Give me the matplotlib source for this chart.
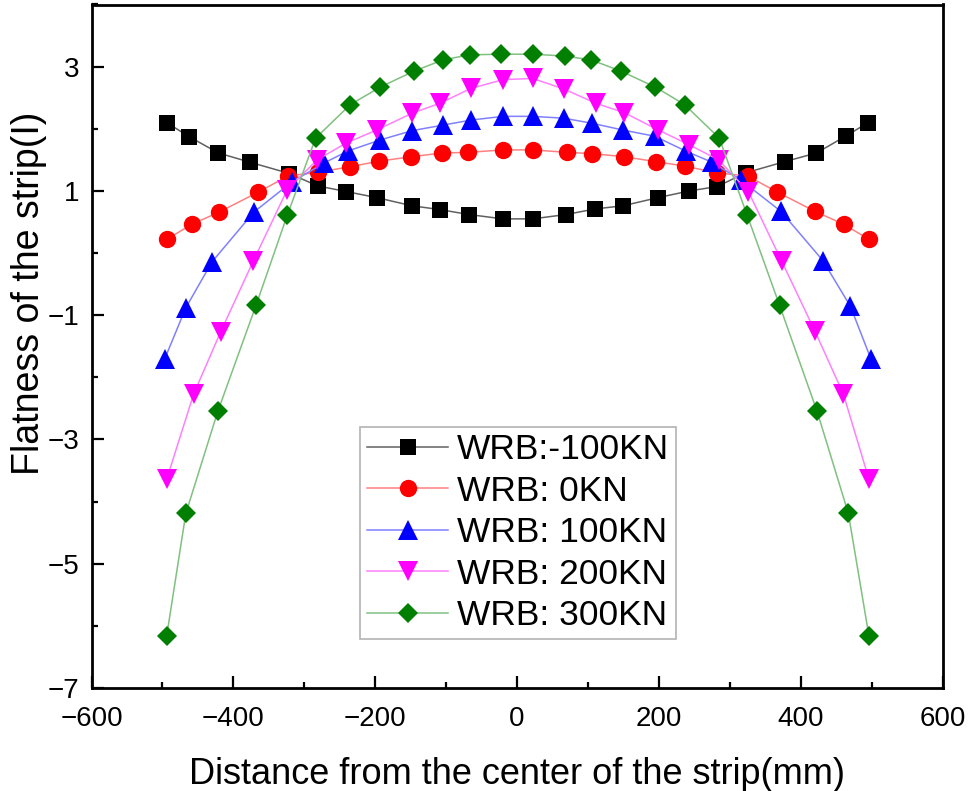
import matplotlib
matplotlib.use("Agg")
import matplotlib.pyplot as plt
from matplotlib.ticker import MultipleLocator, FixedLocator

plt.rcParams['font.family'] = ['Liberation Sans', 'DejaVu Sans']

labels = ["WRB:-100KN", "WRB: 0KN", "WRB: 100KN", "WRB: 200KN", "WRB: 300KN"]

x_m100 = [-494, -462, -421, -376, -321, -281, -241, -197, -148, -109, -68, -20,
          22, 69, 110, 149, 198, 243, 282, 322, 377, 422, 463, 495]
y_m100 = [2.10, 1.87, 1.61, 1.46, 1.28, 1.08, 0.99, 0.89, 0.76, 0.70, 0.62, 0.55,
          0.55, 0.62, 0.71, 0.76, 0.89, 1.00, 1.07, 1.29, 1.47, 1.61, 1.88, 2.10]

x_0 = [-494, -459, -420, -365, -323, -281, -235, -194, -149, -106, -69, -20,
       22, 71, 106, 151, 196, 236, 282, 325, 367, 420, 461, 496]
y_0 = [0.22, 0.46, 0.66, 0.98, 1.24, 1.30, 1.39, 1.48, 1.55, 1.61, 1.62, 1.66,
       1.66, 1.62, 1.60, 1.55, 1.47, 1.40, 1.29, 1.24, 0.98, 0.67, 0.46, 0.22]

x_100 = [-497, -467, -430, -371, -318, -272, -239, -193, -148, -104, -65, -20,
         22, 66, 105, 149, 194, 238, 275, 315, 372, 431, 470, 499]
y_100 = [-1.71, -0.88, -0.14, 0.66, 1.14, 1.45, 1.64, 1.82, 1.97, 2.06, 2.14, 2.20,
         2.20, 2.17, 2.09, 1.98, 1.88, 1.64, 1.46, 1.18, 0.67, -0.12, -0.86, -1.71]

x_200 = [-494, -456, -418, -372, -324, -282, -241, -198, -148, -109, -65, -20,
         22, 66, 111, 151, 199, 243, 284, 326, 373, 420, 460, 496]
y_200 = [-3.64, -2.27, -1.27, -0.13, 1.02, 1.50, 1.77, 1.98, 2.25, 2.41, 2.65, 2.79,
         2.81, 2.64, 2.41, 2.26, 1.98, 1.74, 1.50, 0.99, -0.13, -1.26, -2.27, -3.64]

x_300 = [-494, -467, -422, -368, -324, -284, -235, -193, -145, -104, -67, -22,
         23, 67, 104, 146, 195, 236, 285, 324, 370, 423, 467, 496]
y_300 = [-6.16, -4.19, -2.55, -0.84, 0.61, 1.85, 2.39, 2.67, 2.93, 3.11, 3.19, 3.20,
         3.20, 3.17, 3.11, 2.93, 2.67, 2.39, 1.85, 0.62, -0.84, -2.55, -4.19, -6.16]

series_x = [x_m100, x_0, x_100, x_200, x_300]
series_y = [y_m100, y_0, y_100, y_200, y_300]
marker_colors = ['#000000', '#ff0000', '#0000ff', '#ff00ff', '#007f00']
line_colors = ['#606060', '#ff8080', '#8080ff', '#ff80ff', '#80c080']
markers = ['s', 'o', '^', 'v', 'D']
msizes = [11.3, 12.5, 14, 14, 10.5]

x_ticks = [-600, -400, -200, 0, 200, 400, 600]
y_ticks = [-7, -5, -3, -1, 1, 3]

fig = plt.figure(figsize=(9.69, 7.91), dpi=100)
ax = fig.add_axes([91.5/969, (791-688)/791, (942.7-91.5)/969, (688-4.5)/791])

for xs, ys, mc, lc, m, ms, lab in zip(series_x, series_y, marker_colors, line_colors,
                                      markers, msizes, labels):
    ax.plot(xs, ys, color=lc, lw=1.1, marker=m, ms=ms, mfc=mc, mec=mc, mew=0,
            label=lab, zorder=3)

ax.set_xlim(-600, 600)
ax.set_ylim(-7, 4)
ax.xaxis.set_major_locator(FixedLocator(x_ticks))
ax.xaxis.set_minor_locator(MultipleLocator(100))
ax.yaxis.set_major_locator(FixedLocator(y_ticks))
ax.yaxis.set_minor_locator(MultipleLocator(1))
ax.tick_params(which='both', direction='in', top=False, right=False, width=1.6,
               labelsize=20)
ax.tick_params(axis='y', which='major', length=8.5, pad=9)
ax.tick_params(axis='x', which='major', length=8.5, pad=13)
ax.tick_params(which='minor', length=4)
for sp in ax.spines.values():
    sp.set_linewidth(2.0)

ax.set_xlabel("Distance from the center of the strip(mm)", fontsize=26, labelpad=18)
ax.set_ylabel("Flatness of the strip(I)", fontsize=27)
ax.yaxis.set_label_coords(-0.052, 0.578)

leg = ax.legend(loc='upper left', bbox_to_anchor=(0.316, 0.382), borderaxespad=0,
                fontsize=25.5, frameon=True, fancybox=False, edgecolor='#a0a0a0',
                handlelength=2.3, handletextpad=0.25, labelspacing=0.24,
                borderpad=0.18)
leg.get_frame().set_linewidth(1.2)

fig.savefig("out.png", dpi=100)
